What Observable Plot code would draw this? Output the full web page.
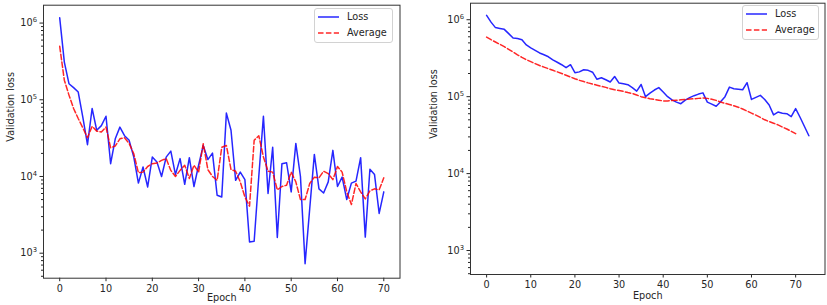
<!DOCTYPE html>
<html><head><meta charset="utf-8">
<script src="https://cdn.jsdelivr.net/npm/d3@7"></script>
<script src="https://cdn.jsdelivr.net/npm/@observablehq/plot@0.6"></script>
<style>
html,body{margin:0;padding:0;background:#fff;}
#wrap{position:relative;width:827px;height:305px;overflow:hidden;font-family:"DejaVu Sans";}
.panel{position:absolute;top:0;}
.legend{position:absolute;border:1px solid #d2d2d2;border-radius:3px;background:rgba(255,255,255,0.85);box-sizing:border-box;font-family:"DejaVu Sans";font-size:9.7px;color:#262626;}
.legend .h{position:absolute;}
.legend .t{position:absolute;line-height:12px;white-space:nowrap;}
</style></head>
<body>
<div id="wrap"></div>
<script>
// ---- data ----
const leftLoss = [1.17e6,3.1e5,1.62e5,1.44e5,1.26e5,5.9e4,2.6e4,7.7e4,4.0e4,4.6e4,
  6.1e4,1.47e4,3.1e4,4.4e4,3.4e4,2.96e4,1.79e4,8.2e3,1.33e4,7.3e3,
  1.79e4,1.54e4,1.0e4,1.79e4,2.14e4,1.06e4,1.71e4,7.9e3,1.76e4,7.4e3,
  1.4e4,2.54e4,1.66e4,2.02e4,5.7e3,5.4e3,6.7e4,4.0e4,8.9e3,1.14e4,
  9.1e3,1.4e3,1.43e3,1.0e4,6.1e4,6.0e3,2.4e4,1.6e3,1.47e4,1.51e4,
  6.3e3,2.7e4,1.0e4,730,3.8e3,1.94e4,6.9e3,6.1e3,8.5e3,2.19e4,
  7.4e3,9.8e3,5.0e3,8.2e3,8.7e3,1.76e4,1.62e3,1.24e4,1.06e4,3.3e3,6.3e3];
const leftAvg = [4.97e5,1.8e5,1.15e5,7.7e4,5.7e4,4.3e4,3.2e4,4.5e4,3.9e4,3.8e4,
  4.4e4,2.37e4,2.5e4,3.1e4,3.2e4,2.7e4,1.98e4,1.12e4,1.14e4,1.35e4,
  1.47e4,1.5e4,1.62e4,1.71e4,1.2e4,1.0e4,1.2e4,1.4e4,9.4e3,1.4e4,
  1.14e4,2.68e4,1.23e4,1.0e4,8.9e3,2.4e4,2.54e4,1.23e4,1.17e4,8.5e3,
  5.4e3,4.1e3,2.96e4,3.4e4,1.8e4,1.17e4,1.14e4,6.7e3,7.4e3,7.7e3,
  1.14e4,8.5e3,5.0e3,5.0e3,8.1e3,9.8e3,9.6e3,1.17e4,1.09e4,9.1e3,
  1.35e4,1.14e4,6.3e3,4.3e3,8.1e3,6.3e3,5.1e3,6.5e3,6.9e3,6.7e3,9.6e3];
const rightLoss = [1.14e6,9.3e5,7.9e5,7.7e5,7.5e5,6.6e5,5.8e5,5.7e5,5.5e5,4.7e5,
  4.3e5,4.0e5,3.7e5,3.5e5,3.3e5,3.0e5,2.8e5,2.6e5,2.38e5,2.6e5,
  2.05e5,2.1e5,2.24e5,2.2e5,2.08e5,1.68e5,1.76e5,1.66e5,1.55e5,1.83e5,
  1.5e5,1.47e5,1.43e5,1.31e5,1.18e5,1.44e5,1.0e5,1.11e5,1.22e5,1.31e5,
  1.15e5,1.0e5,9.1e4,8.5e4,8.1e4,9.0e4,9.7e4,1.03e5,1.08e5,1.12e5,
  8.5e4,8.0e4,7.5e4,8.6e4,1.0e5,1.33e5,1.27e5,1.25e5,1.23e5,1.52e5,
  9.2e4,9.8e4,1.04e5,9.2e4,7.8e4,5.8e4,6.3e4,6.1e4,6.0e4,5.5e4,
  7.0e4,5.4e4,4.1e4,3.1e4];
const rightAvg = [5.94e5,5.5e5,5.13e5,4.79e5,4.47e5,4.12e5,3.8e5,3.5e5,3.24e5,3.02e5,
  2.85e5,2.69e5,2.54e5,2.42e5,2.31e5,2.2e5,2.1e5,2.0e5,1.9e5,1.8e5,
  1.71e5,1.63e5,1.57e5,1.51e5,1.46e5,1.41e5,1.36e5,1.32e5,1.27e5,1.23e5,
  1.2e5,1.17e5,1.13e5,1.1e5,1.05e5,1.0e5,9.7e4,9.4e4,9.2e4,9.0e4,
  8.8e4,8.8e4,8.9e4,9.0e4,9.1e4,9.2e4,9.3e4,9.4e4,9.5e4,9.6e4,
  9.5e4,9.25e4,8.95e4,8.5e4,8.2e4,7.9e4,7.6e4,7.3e4,6.9e4,6.5e4,
  6.1e4,5.75e4,5.37e4,5.0e4,4.75e4,4.52e4,4.3e4,4.03e4,3.8e4,3.55e4,3.3e4];

const xTicks = [0,10,20,30,40,50,60,70];
const yTicks = [1e3,1e4,1e5,1e6];
const seriesNames = ["Loss","Average"];
const xLabel = "Epoch";
const yLabel = "Validation loss";

// ---- helpers ----
const SUP = {"0":"⁰","1":"¹","2":"²","3":"³","4":"⁴","5":"⁵","6":"⁶","7":"⁷","8":"⁸","9":"⁹"};
const supFmt = v => "10" + String(Math.round(Math.log10(v))).split("").map(c => SUP[c]).join("");
const minorTicks = [];
for (let e = 2; e <= 6; e++) for (let m = 2; m <= 9; m++) minorTicks.push(m * 10 ** e);

const BLUE = "#0000ff", RED = "#ff0000";

function panel(cfg) {
  return Plot.plot({
    width: cfg.width, height: 305,
    marginLeft: cfg.ml, marginRight: cfg.mr, marginTop: cfg.mt, marginBottom: cfg.mb,
    style: {fontFamily: "DejaVu Sans", fontSize: "9.7px", color: "#262626", background: "transparent", overflow: "visible"},
    x: {domain: cfg.xDomain},
    y: {type: "log", domain: cfg.yDomain},
    marks: [
      Plot.axisX(xTicks, {tickSize: 3.5, tickPadding: 3, label: null}),
      Plot.axisY(minorTicks.filter(v => v >= cfg.yDomain[0] && v <= cfg.yDomain[1]), {tickSize: 2, tickFormat: () => "", label: null}),
      Plot.axisY(yTicks, {tickSize: 3.5, tickPadding: 3, tickFormat: supFmt, label: null}),
      Plot.line(cfg.loss, {x: (d, i) => i, y: d => d, stroke: BLUE, strokeOpacity: 0.85, strokeWidth: 1.5, strokeLinejoin: "round"}),
      Plot.line(cfg.avg, {x: (d, i) => i, y: d => d, stroke: RED, strokeOpacity: 0.85, strokeWidth: 1.5, strokeDasharray: "5.5,2.4", strokeLinejoin: "round"}),
      Plot.frame({stroke: "#333"}),
      Plot.text([xLabel], {frameAnchor: "bottom", dy: cfg.xlDy, text: d => d, fontSize: 9.7}),
      Plot.text([yLabel], {frameAnchor: "left", dx: cfg.ylDx, rotate: -90, text: d => d, fontSize: 9.7})
    ]
  });
}

// render exponents of "10ⁿ" tick labels as real superscript tspans (like mathtext)
const INV = Object.fromEntries(Object.entries(SUP).map(([k, v]) => [v, k]));
function fixSup(svg) {
  const ns = "http://www.w3.org/2000/svg";
  svg.querySelectorAll("text").forEach(t => {
    const s = t.textContent;
    const m = /^10([⁰¹²³⁴⁵⁶⁷⁸⁹]+)$/.exec(s);
    if (!m) return;
    const exp = m[1].split("").map(c => INV[c]).join("");
    while (t.firstChild) t.removeChild(t.firstChild);
    const base = document.createElementNS(ns, "tspan");
    base.textContent = "10";
    const sup = document.createElementNS(ns, "tspan");
    sup.textContent = exp;
    sup.setAttribute("font-size", "6.8px");
    sup.setAttribute("dy", "-4");
    t.appendChild(base); t.appendChild(sup);
  });
}

function legend(left, top, width) {
  const box = document.createElement("div");
  box.className = "legend";
  Object.assign(box.style, {left: left + "px", top: top + "px", width: width + "px", height: "35px"});
  const rows = [{name: seriesNames[0], color: BLUE, dash: null, y: 8.7}, {name: seriesNames[1], color: RED, dash: "5.5,2.4", y: 24.5}];
  for (const r of rows) {
    const ns = "http://www.w3.org/2000/svg";
    const s = document.createElementNS(ns, "svg");
    s.setAttribute("width", 21); s.setAttribute("height", 4);
    s.setAttribute("class", "h");
    s.style.left = "3px"; s.style.top = (r.y - 2) + "px";
    const l = document.createElementNS(ns, "line");
    l.setAttribute("x1", 0); l.setAttribute("x2", 21); l.setAttribute("y1", 2); l.setAttribute("y2", 2);
    l.setAttribute("stroke", r.color); l.setAttribute("stroke-opacity", 0.85); l.setAttribute("stroke-width", 1.5);
    if (r.dash) l.setAttribute("stroke-dasharray", r.dash);
    s.appendChild(l);
    box.appendChild(s);
    const t = document.createElement("div");
    t.className = "t";
    t.textContent = r.name;
    t.style.left = "32px"; t.style.top = (r.y - 6.5) + "px";
    box.appendChild(t);
  }
  return box;
}

const wrap = document.getElementById("wrap");

const p1 = panel({loss: leftLoss, avg: leftAvg, width: 410, ml: 43, mr: 10.5, mt: 4.7, mb: 27.3,
  xDomain: [-3.5, 73.5], yDomain: [472, 1.71e6], xlDy: 23, ylDx: -33});
p1.classList.add("panel"); p1.style.left = "0px";
fixSup(p1);
wrap.appendChild(p1);

const p2 = panel({loss: rightLoss, avg: rightAvg, width: 417, ml: 60, mr: 2.5, mt: 2.7, mb: 31,
  xDomain: [-3.65, 76.65], yDomain: [488, 1.64e6], xlDy: 24.5, ylDx: -37});
p2.classList.add("panel"); p2.style.left = "410px";
fixSup(p2);
wrap.appendChild(p2);

wrap.appendChild(legend(314, 7.5, 79));
wrap.appendChild(legend(742, 4.5, 77));
</script>
</body></html>
